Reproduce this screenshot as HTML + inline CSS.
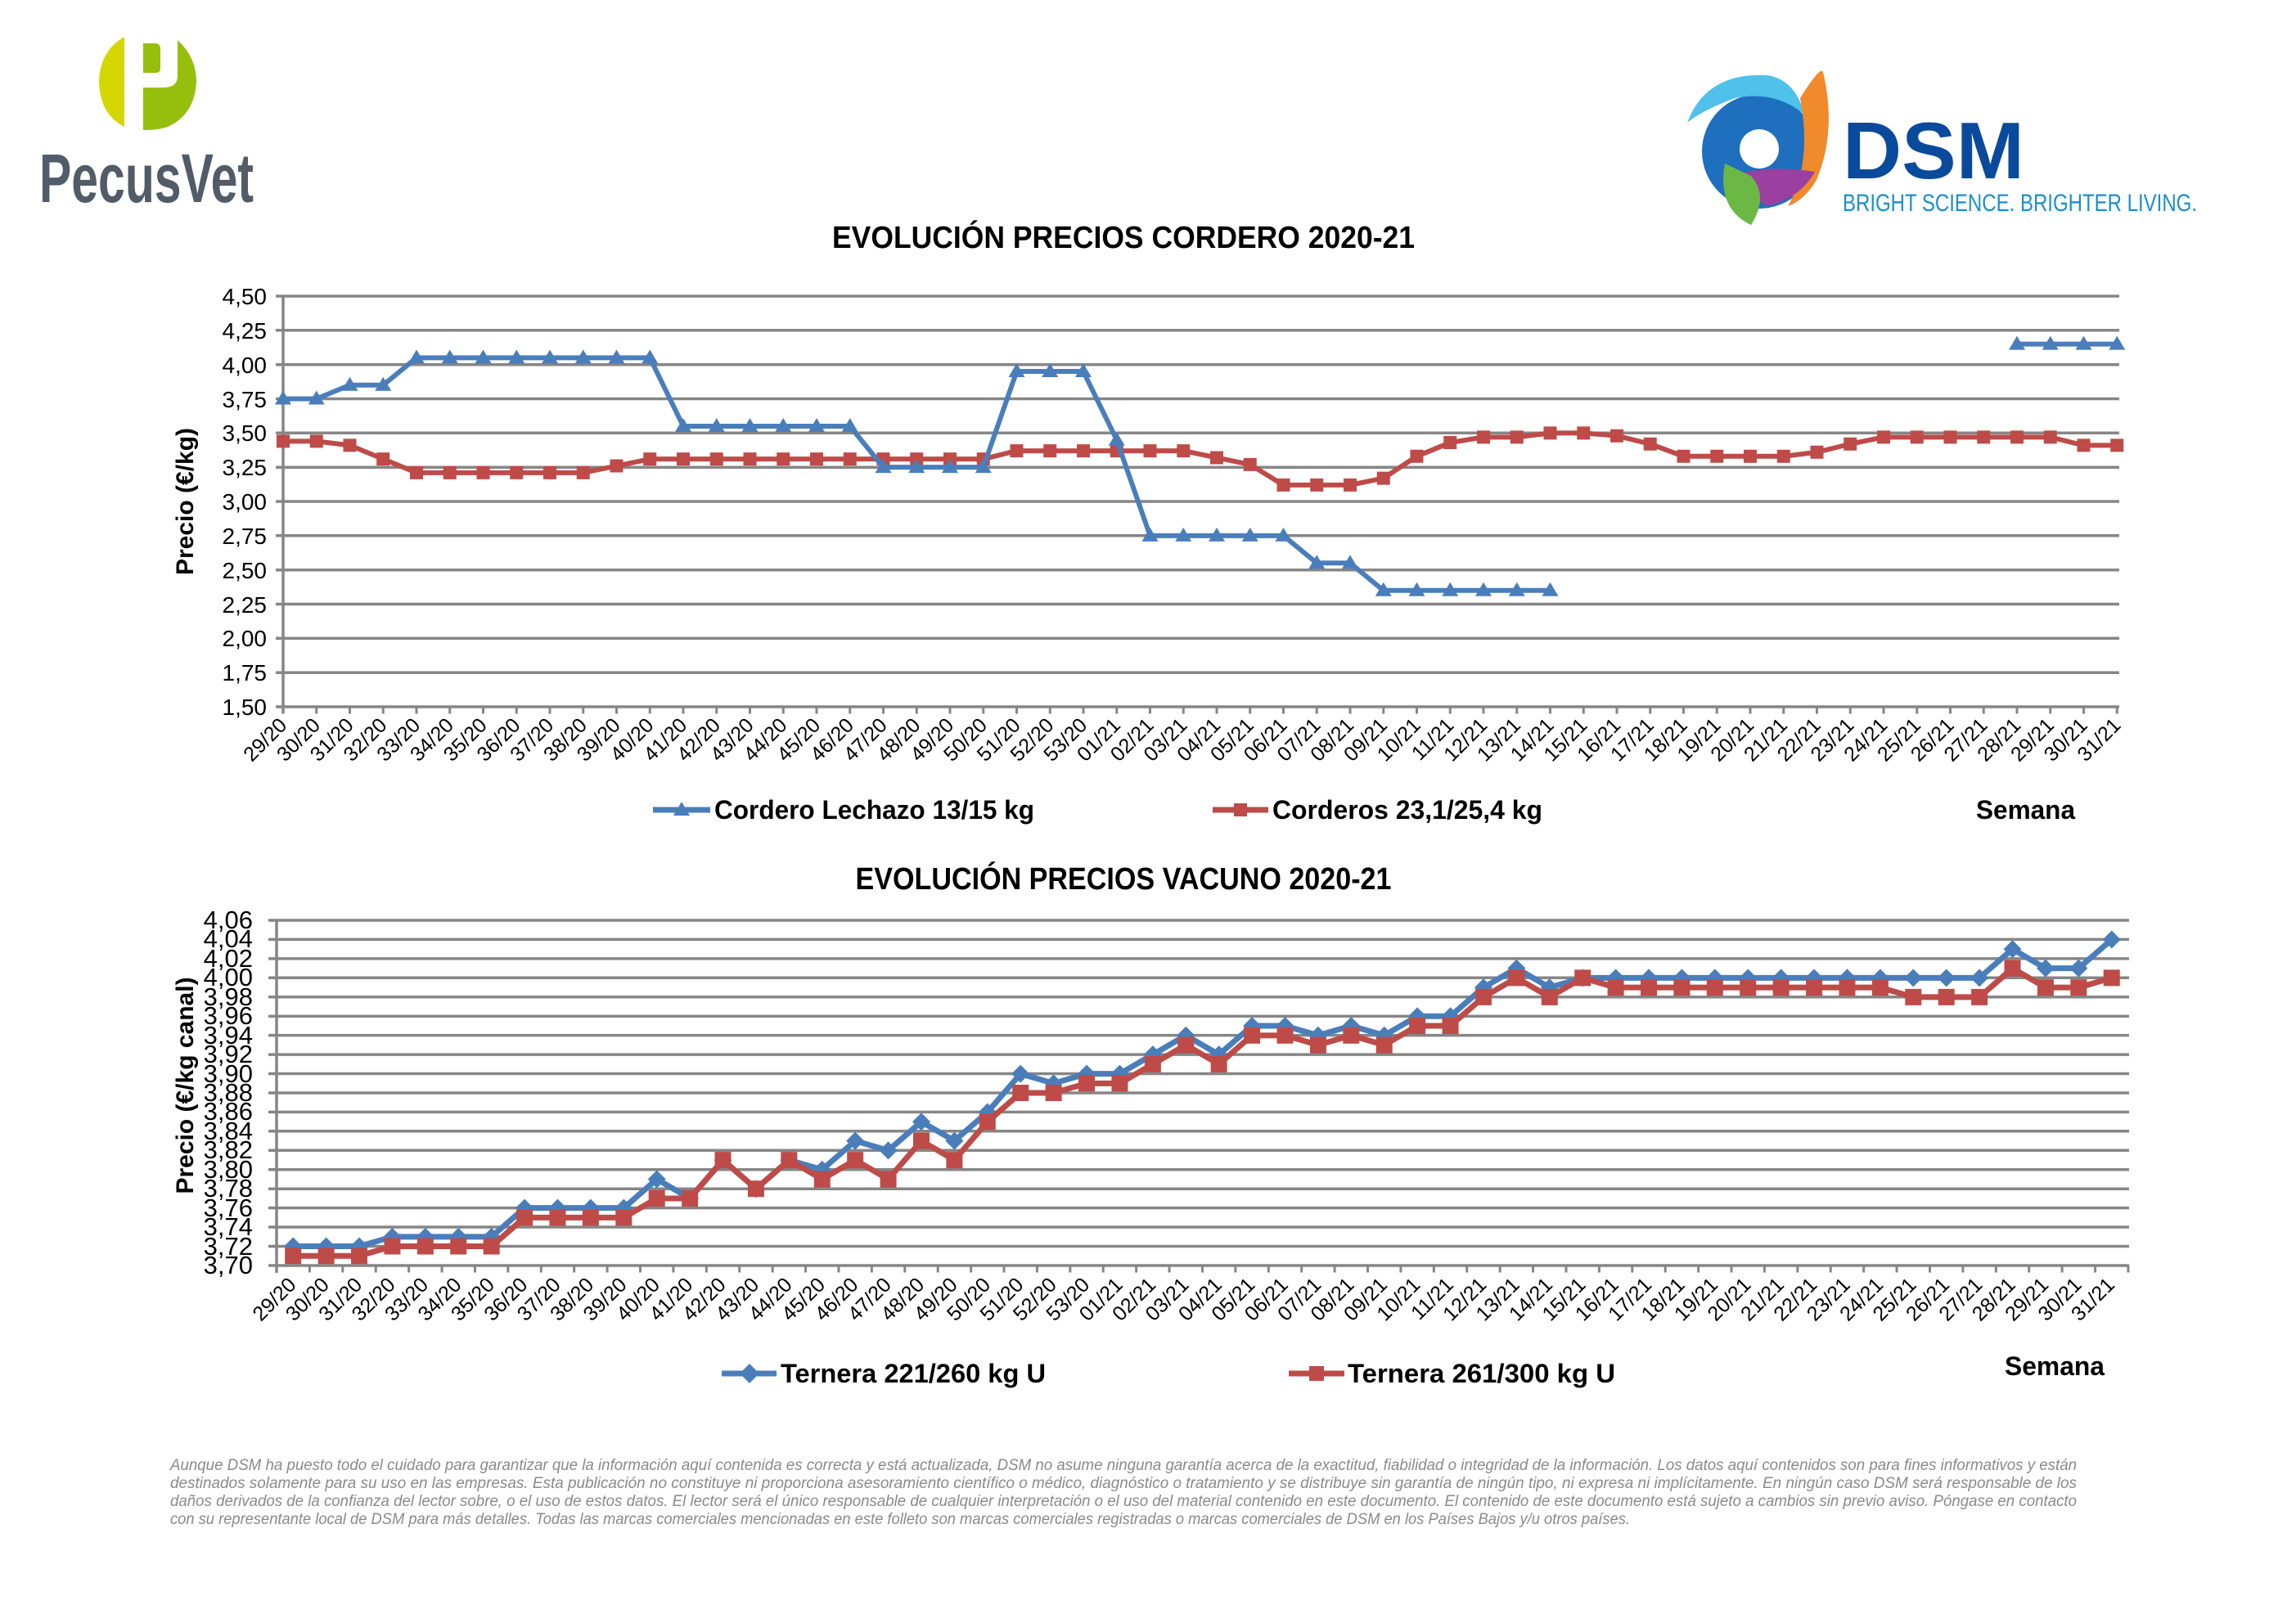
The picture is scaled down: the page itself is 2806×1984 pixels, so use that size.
<!DOCTYPE html>
<html><head><meta charset="utf-8"><style>
html,body{margin:0;padding:0;background:#fff;}
svg{display:block;}
text{font-family:"Liberation Sans",sans-serif;}
</style></head><body>
<svg width="2806" height="1984" viewBox="0 0 2806 1984" xmlns="http://www.w3.org/2000/svg">
<defs>
<marker id="tri" markerUnits="userSpaceOnUse" overflow="visible" refX="0" refY="0" markerWidth="1" markerHeight="1">
<path transform="scale(0.02454,-0.5976)" d="M0,-10 L10,7 L-10,7Z" fill="#4a7ebb"/></marker>
<marker id="sq1" markerUnits="userSpaceOnUse" overflow="visible" refX="0" refY="0" markerWidth="1" markerHeight="1">
<path transform="scale(0.02454,-0.5976)" d="M-8,-8 H8 V8 H-8Z" fill="#be4b48"/></marker>
<marker id="dia" markerUnits="userSpaceOnUse" overflow="visible" refX="0" refY="0" markerWidth="1" markerHeight="1">
<path transform="scale(0.024746,-0.085324)" d="M0,-11 L11,0 L0,11 L-11,0Z" fill="#4a7ebb"/></marker>
<marker id="sq2" markerUnits="userSpaceOnUse" overflow="visible" refX="0" refY="0" markerWidth="1" markerHeight="1">
<path transform="scale(0.024746,-0.085324)" d="M-10,-10 H10 V10 H-10Z" fill="#be4b48"/></marker>
</defs>

<!-- PecusVet logo -->
<path d="M152,45 Q122,62 121,100 Q122,140 152,155 Z" fill="#d4d800"/>
<path d="M175,53 H190 Q196,53 196,60 V84 Q196,89 190,89 H175 Z" fill="#96bf0d"/>
<path d="M217,49 Q240,70 240,100 Q238,140 205,155 Q194,159 175,159 V107 H200 Q216,107 217,94 Z" fill="#96bf0d"/>
<text x="48" y="247" font-size="84" font-weight="bold" fill="#525c68" textLength="262" lengthAdjust="spacingAndGlyphs">PecusVet</text>

<!-- DSM logo -->
<circle cx="2150" cy="185" r="70" fill="#1f6fbf"/>
<path d="M2062,150 Q2085,88 2160,92 Q2195,98 2205,140 Q2170,110 2120,120 Q2080,135 2062,150Z" fill="#4fc1ea"/>
<path d="M2200,120 Q2225,80 2228,88 Q2245,160 2220,220 Q2205,245 2185,252 Q2215,200 2200,120Z" fill="#f08a2a"/>
<path d="M2112,218 Q2150,200 2218,210 Q2200,242 2160,252 Z" fill="#9b3fa0"/>
<path d="M2108,200 Q2098,255 2140,275 Q2162,240 2140,215Z" fill="#6bb845"/>
<circle cx="2150" cy="182" r="24" fill="#fff"/>
<text x="2252" y="218" font-size="98" font-weight="bold" fill="#0a4a9c" textLength="222" lengthAdjust="spacingAndGlyphs">DSM</text>
<text x="2252" y="258" font-size="30" fill="#1a8fd0" textLength="433" lengthAdjust="spacingAndGlyphs">BRIGHT SCIENCE. BRIGHTER LIVING.</text>

<!-- Chart 1 -->
<text x="1373" y="303" font-size="38" font-weight="bold" text-anchor="middle" textLength="712" lengthAdjust="spacingAndGlyphs">EVOLUCIÓN PRECIOS CORDERO 2020-21</text>
<g stroke="#868686" stroke-width="3.5">
<line x1="337" y1="362" x2="2590" y2="362"/><line x1="337" y1="403.8" x2="2590" y2="403.8"/><line x1="337" y1="445.7" x2="2590" y2="445.7"/><line x1="337" y1="487.5" x2="2590" y2="487.5"/><line x1="337" y1="529.3" x2="2590" y2="529.3"/><line x1="337" y1="571.2" x2="2590" y2="571.2"/><line x1="337" y1="613" x2="2590" y2="613"/><line x1="337" y1="654.8" x2="2590" y2="654.8"/><line x1="337" y1="696.7" x2="2590" y2="696.7"/><line x1="337" y1="738.5" x2="2590" y2="738.5"/><line x1="337" y1="780.3" x2="2590" y2="780.3"/><line x1="337" y1="822.2" x2="2590" y2="822.2"/><line x1="337" y1="864" x2="2590" y2="864"/>
<line x1="346" y1="362" x2="346" y2="872"/>
</g>
<line x1="344.5" y1="868" x2="2592" y2="868" stroke="#868686" stroke-width="9" stroke-dasharray="3 37.75"/>
<g font-size="28" text-anchor="end">
<text x="326" y="372">4,50</text><text x="326" y="414">4,25</text><text x="326" y="456">4,00</text><text x="326" y="498">3,75</text><text x="326" y="539">3,50</text><text x="326" y="581">3,25</text><text x="326" y="623">3,00</text><text x="326" y="665">2,75</text><text x="326" y="707">2,50</text><text x="326" y="749">2,25</text><text x="326" y="790">2,00</text><text x="326" y="832">1,75</text><text x="326" y="874">1,50</text>
</g>
<text transform="translate(236,613) rotate(-90)" font-size="30" font-weight="bold" text-anchor="middle">Precio (€/kg)</text>
<g transform="translate(6,888)" font-size="25" text-anchor="end">
<text transform="translate(346,0) rotate(-45)">29/20</text><text transform="translate(386.75,0) rotate(-45)">30/20</text><text transform="translate(427.5,0) rotate(-45)">31/20</text><text transform="translate(468.25,0) rotate(-45)">32/20</text><text transform="translate(509,0) rotate(-45)">33/20</text><text transform="translate(549.75,0) rotate(-45)">34/20</text><text transform="translate(590.5,0) rotate(-45)">35/20</text><text transform="translate(631.25,0) rotate(-45)">36/20</text><text transform="translate(672,0) rotate(-45)">37/20</text><text transform="translate(712.75,0) rotate(-45)">38/20</text><text transform="translate(753.5,0) rotate(-45)">39/20</text><text transform="translate(794.25,0) rotate(-45)">40/20</text><text transform="translate(835,0) rotate(-45)">41/20</text><text transform="translate(875.75,0) rotate(-45)">42/20</text><text transform="translate(916.5,0) rotate(-45)">43/20</text><text transform="translate(957.25,0) rotate(-45)">44/20</text><text transform="translate(998,0) rotate(-45)">45/20</text><text transform="translate(1038.75,0) rotate(-45)">46/20</text><text transform="translate(1079.5,0) rotate(-45)">47/20</text><text transform="translate(1120.25,0) rotate(-45)">48/20</text><text transform="translate(1161,0) rotate(-45)">49/20</text><text transform="translate(1201.75,0) rotate(-45)">50/20</text><text transform="translate(1242.5,0) rotate(-45)">51/20</text><text transform="translate(1283.25,0) rotate(-45)">52/20</text><text transform="translate(1324,0) rotate(-45)">53/20</text><text transform="translate(1364.75,0) rotate(-45)">01/21</text><text transform="translate(1405.5,0) rotate(-45)">02/21</text><text transform="translate(1446.25,0) rotate(-45)">03/21</text><text transform="translate(1487,0) rotate(-45)">04/21</text><text transform="translate(1527.75,0) rotate(-45)">05/21</text><text transform="translate(1568.5,0) rotate(-45)">06/21</text><text transform="translate(1609.25,0) rotate(-45)">07/21</text><text transform="translate(1650,0) rotate(-45)">08/21</text><text transform="translate(1690.75,0) rotate(-45)">09/21</text><text transform="translate(1731.5,0) rotate(-45)">10/21</text><text transform="translate(1772.25,0) rotate(-45)">11/21</text><text transform="translate(1813,0) rotate(-45)">12/21</text><text transform="translate(1853.75,0) rotate(-45)">13/21</text><text transform="translate(1894.5,0) rotate(-45)">14/21</text><text transform="translate(1935.25,0) rotate(-45)">15/21</text><text transform="translate(1976,0) rotate(-45)">16/21</text><text transform="translate(2016.75,0) rotate(-45)">17/21</text><text transform="translate(2057.5,0) rotate(-45)">18/21</text><text transform="translate(2098.25,0) rotate(-45)">19/21</text><text transform="translate(2139,0) rotate(-45)">20/21</text><text transform="translate(2179.75,0) rotate(-45)">21/21</text><text transform="translate(2220.5,0) rotate(-45)">22/21</text><text transform="translate(2261.25,0) rotate(-45)">23/21</text><text transform="translate(2302,0) rotate(-45)">24/21</text><text transform="translate(2342.75,0) rotate(-45)">25/21</text><text transform="translate(2383.5,0) rotate(-45)">26/21</text><text transform="translate(2424.25,0) rotate(-45)">27/21</text><text transform="translate(2465,0) rotate(-45)">28/21</text><text transform="translate(2505.75,0) rotate(-45)">29/21</text><text transform="translate(2546.5,0) rotate(-45)">30/21</text><text transform="translate(2587.25,0) rotate(-45)">31/21</text>
</g>
<g transform="translate(346,1115) scale(40.75,-1.6733)" fill="none" stroke-linejoin="round">
<polyline vector-effect="non-scaling-stroke" stroke="#be4b48" stroke-width="6" marker-start="url(#sq1)" marker-mid="url(#sq1)" marker-end="url(#sq1)" points="0,344 1,344 2,341 3,331 4,321 5,321 6,321 7,321 8,321 9,321 10,326 11,331 12,331 13,331 14,331 15,331 16,331 17,331 18,331 19,331 20,331 21,331 22,337 23,337 24,337 25,337 26,337 27,337 28,332 29,327 30,312 31,312 32,312 33,317 34,333 35,343 36,347 37,347 38,350 39,350 40,348 41,342 42,333 43,333 44,333 45,333 46,336 47,342 48,347 49,347 50,347 51,347 52,347 53,347 54,341 55,341"/>
<polyline vector-effect="non-scaling-stroke" stroke="#4a7ebb" stroke-width="6" marker-start="url(#tri)" marker-mid="url(#tri)" marker-end="url(#tri)" points="0,375 1,375 2,385 3,385 4,405 5,405 6,405 7,405 8,405 9,405 10,405 11,405 12,355 13,355 14,355 15,355 16,355 17,355 18,325 19,325 20,325 21,325 22,395 23,395 24,395 25,345 26,275 27,275 28,275 29,275 30,275 31,255 32,255 33,235 34,235 35,235 36,235 37,235 38,235"/>
<polyline vector-effect="non-scaling-stroke" stroke="#4a7ebb" stroke-width="6" marker-start="url(#tri)" marker-mid="url(#tri)" marker-end="url(#tri)" points="52,415 53,415 54,415 55,415"/>
</g>
<line x1="798" y1="990" x2="868" y2="990" stroke="#4a7ebb" stroke-width="7"/><path d="M833,980 L843,997 L823,997Z" fill="#4a7ebb"/>
<text x="873" y="1001" font-size="32" font-weight="bold" textLength="391" lengthAdjust="spacingAndGlyphs">Cordero Lechazo 13/15 kg</text>
<line x1="1482" y1="990" x2="1550" y2="990" stroke="#be4b48" stroke-width="7"/><rect x="1508" y="982" width="16" height="16" fill="#be4b48"/>
<text x="1555" y="1001" font-size="32" font-weight="bold" textLength="330" lengthAdjust="spacingAndGlyphs">Corderos 23,1/25,4 kg</text>
<text x="2415" y="1001" font-size="32" font-weight="bold" textLength="121" lengthAdjust="spacingAndGlyphs">Semana</text>

<!-- Chart 2 -->
<text x="1373" y="1087" font-size="38" font-weight="bold" text-anchor="middle" textLength="655" lengthAdjust="spacingAndGlyphs">EVOLUCIÓN PRECIOS VACUNO 2020-21</text>
<g stroke="#868686" stroke-width="3.5">
<line x1="328" y1="1125" x2="2602" y2="1125"/><line x1="328" y1="1148.4" x2="2602" y2="1148.4"/><line x1="328" y1="1171.9" x2="2602" y2="1171.9"/><line x1="328" y1="1195.3" x2="2602" y2="1195.3"/><line x1="328" y1="1218.8" x2="2602" y2="1218.8"/><line x1="328" y1="1242.2" x2="2602" y2="1242.2"/><line x1="328" y1="1265.6" x2="2602" y2="1265.6"/><line x1="328" y1="1289.1" x2="2602" y2="1289.1"/><line x1="328" y1="1312.5" x2="2602" y2="1312.5"/><line x1="328" y1="1336" x2="2602" y2="1336"/><line x1="328" y1="1359.4" x2="2602" y2="1359.4"/><line x1="328" y1="1382.8" x2="2602" y2="1382.8"/><line x1="328" y1="1406.3" x2="2602" y2="1406.3"/><line x1="328" y1="1429.7" x2="2602" y2="1429.7"/><line x1="328" y1="1453.2" x2="2602" y2="1453.2"/><line x1="328" y1="1476.6" x2="2602" y2="1476.6"/><line x1="328" y1="1500" x2="2602" y2="1500"/><line x1="328" y1="1523.5" x2="2602" y2="1523.5"/><line x1="328" y1="1547" x2="2602" y2="1547"/>
<line x1="338" y1="1125" x2="338" y2="1556"/>
</g>
<line x1="336.5" y1="1551" x2="2604" y2="1551" stroke="#868686" stroke-width="9" stroke-dasharray="3 37.41"/>
<g font-size="31" text-anchor="end">
<text x="309" y="1135">4,06</text><text x="309" y="1158">4,04</text><text x="309" y="1182">4,02</text><text x="309" y="1205">4,00</text><text x="309" y="1229">3,98</text><text x="309" y="1252">3,96</text><text x="309" y="1276">3,94</text><text x="309" y="1299">3,92</text><text x="309" y="1323">3,90</text><text x="309" y="1346">3,88</text><text x="309" y="1369">3,86</text><text x="309" y="1393">3,84</text><text x="309" y="1416">3,82</text><text x="309" y="1440">3,80</text><text x="309" y="1463">3,78</text><text x="309" y="1487">3,76</text><text x="309" y="1510">3,74</text><text x="309" y="1534">3,72</text><text x="309" y="1557">3,70</text>
</g>
<text transform="translate(236,1327) rotate(-90)" font-size="30" font-weight="bold" text-anchor="middle">Precio (€/kg canal)</text>
<g transform="translate(5,1572)" font-size="25" text-anchor="end">
<text transform="translate(358.2,0) rotate(-45)">29/20</text><text transform="translate(398.6,0) rotate(-45)">30/20</text><text transform="translate(439,0) rotate(-45)">31/20</text><text transform="translate(479.4,0) rotate(-45)">32/20</text><text transform="translate(519.8,0) rotate(-45)">33/20</text><text transform="translate(560.3,0) rotate(-45)">34/20</text><text transform="translate(600.7,0) rotate(-45)">35/20</text><text transform="translate(641.1,0) rotate(-45)">36/20</text><text transform="translate(681.5,0) rotate(-45)">37/20</text><text transform="translate(721.9,0) rotate(-45)">38/20</text><text transform="translate(762.3,0) rotate(-45)">39/20</text><text transform="translate(802.7,0) rotate(-45)">40/20</text><text transform="translate(843.1,0) rotate(-45)">41/20</text><text transform="translate(883.5,0) rotate(-45)">42/20</text><text transform="translate(923.9,0) rotate(-45)">43/20</text><text transform="translate(964.4,0) rotate(-45)">44/20</text><text transform="translate(1004.8,0) rotate(-45)">45/20</text><text transform="translate(1045.2,0) rotate(-45)">46/20</text><text transform="translate(1085.6,0) rotate(-45)">47/20</text><text transform="translate(1126,0) rotate(-45)">48/20</text><text transform="translate(1166.4,0) rotate(-45)">49/20</text><text transform="translate(1206.8,0) rotate(-45)">50/20</text><text transform="translate(1247.2,0) rotate(-45)">51/20</text><text transform="translate(1287.6,0) rotate(-45)">52/20</text><text transform="translate(1328,0) rotate(-45)">53/20</text><text transform="translate(1368.5,0) rotate(-45)">01/21</text><text transform="translate(1408.9,0) rotate(-45)">02/21</text><text transform="translate(1449.3,0) rotate(-45)">03/21</text><text transform="translate(1489.7,0) rotate(-45)">04/21</text><text transform="translate(1530.1,0) rotate(-45)">05/21</text><text transform="translate(1570.5,0) rotate(-45)">06/21</text><text transform="translate(1610.9,0) rotate(-45)">07/21</text><text transform="translate(1651.3,0) rotate(-45)">08/21</text><text transform="translate(1691.7,0) rotate(-45)">09/21</text><text transform="translate(1732.1,0) rotate(-45)">10/21</text><text transform="translate(1772.6,0) rotate(-45)">11/21</text><text transform="translate(1813,0) rotate(-45)">12/21</text><text transform="translate(1853.4,0) rotate(-45)">13/21</text><text transform="translate(1893.8,0) rotate(-45)">14/21</text><text transform="translate(1934.2,0) rotate(-45)">15/21</text><text transform="translate(1974.6,0) rotate(-45)">16/21</text><text transform="translate(2015,0) rotate(-45)">17/21</text><text transform="translate(2055.4,0) rotate(-45)">18/21</text><text transform="translate(2095.8,0) rotate(-45)">19/21</text><text transform="translate(2136.2,0) rotate(-45)">20/21</text><text transform="translate(2176.7,0) rotate(-45)">21/21</text><text transform="translate(2217.1,0) rotate(-45)">22/21</text><text transform="translate(2257.5,0) rotate(-45)">23/21</text><text transform="translate(2297.9,0) rotate(-45)">24/21</text><text transform="translate(2338.3,0) rotate(-45)">25/21</text><text transform="translate(2378.7,0) rotate(-45)">26/21</text><text transform="translate(2419.1,0) rotate(-45)">27/21</text><text transform="translate(2459.5,0) rotate(-45)">28/21</text><text transform="translate(2499.9,0) rotate(-45)">29/21</text><text transform="translate(2540.3,0) rotate(-45)">30/21</text><text transform="translate(2580.7,0) rotate(-45)">31/21</text>
</g>
<g transform="translate(358.2,1547) scale(40.41,-11.72)" fill="none" stroke-linejoin="round">
<polyline vector-effect="non-scaling-stroke" stroke="#4a7ebb" stroke-width="7" marker-start="url(#dia)" marker-mid="url(#dia)" marker-end="url(#dia)" points="0,2 1,2 2,2 3,3 4,3 5,3 6,3 7,6 8,6 9,6 10,6 11,9 12,7 13,11 14,8 15,11 16,10 17,13 18,12 19,15 20,13 21,16 22,20 23,19 24,20 25,20 26,22 27,24 28,22 29,25 30,25 31,24 32,25 33,24 34,26 35,26 36,29 37,31 38,29 39,30 40,30 41,30 42,30 43,30 44,30 45,30 46,30 47,30 48,30 49,30 50,30 51,30 52,33 53,31 54,31 55,34"/>
<polyline vector-effect="non-scaling-stroke" stroke="#be4b48" stroke-width="7" marker-start="url(#sq2)" marker-mid="url(#sq2)" marker-end="url(#sq2)" points="0,1 1,1 2,1 3,2 4,2 5,2 6,2 7,5 8,5 9,5 10,5 11,7 12,7 13,11 14,8 15,11 16,9 17,11 18,9 19,13 20,11 21,15 22,18 23,18 24,19 25,19 26,21 27,23 28,21 29,24 30,24 31,23 32,24 33,23 34,25 35,25 36,28 37,30 38,28 39,30 40,29 41,29 42,29 43,29 44,29 45,29 46,29 47,29 48,29 49,28 50,28 51,28 52,31 53,29 54,29 55,30"/>
</g>
<line x1="882" y1="1679" x2="949" y2="1679" stroke="#4a7ebb" stroke-width="7"/><path d="M916,1667 L928,1679 L916,1691 L904,1679Z" fill="#4a7ebb"/>
<text x="954" y="1690" font-size="32" font-weight="bold" textLength="324" lengthAdjust="spacingAndGlyphs">Ternera 221/260 kg U</text>
<line x1="1575" y1="1679" x2="1643" y2="1679" stroke="#be4b48" stroke-width="7"/><rect x="1600" y="1670" width="18" height="18" fill="#be4b48"/>
<text x="1647" y="1690" font-size="32" font-weight="bold" textLength="327" lengthAdjust="spacingAndGlyphs">Ternera 261/300 kg U</text>
<text x="2450" y="1681" font-size="32" font-weight="bold" textLength="122" lengthAdjust="spacingAndGlyphs">Semana</text>

<!-- Footer -->
<g font-size="19" font-style="italic" fill="#8a8a8a">
<text x="208" y="1797" textLength="2330" lengthAdjust="spacingAndGlyphs">Aunque DSM ha puesto todo el cuidado para garantizar que la información aquí contenida es correcta y está actualizada, DSM no asume ninguna garantía acerca de la exactitud, fiabilidad o integridad de la información. Los datos aquí contenidos son para fines informativos y están</text>
<text x="208" y="1819" textLength="2330" lengthAdjust="spacingAndGlyphs">destinados solamente para su uso en las empresas. Esta publicación no constituye ni proporciona asesoramiento científico o médico, diagnóstico o tratamiento y se distribuye sin garantía de ningún tipo, ni expresa ni implícitamente. En ningún caso DSM será responsable de los</text>
<text x="208" y="1841" textLength="2330" lengthAdjust="spacingAndGlyphs">daños derivados de la confianza del lector sobre, o el uso de estos datos. El lector será el único responsable de cualquier interpretación o el uso del material contenido en este documento. El contenido de este documento está sujeto a cambios sin previo aviso. Póngase en contacto</text>
<text x="208" y="1863" textLength="1784" lengthAdjust="spacingAndGlyphs">con su representante local de DSM para más detalles. Todas las marcas comerciales mencionadas en este folleto son marcas comerciales registradas o marcas comerciales de DSM en los Países Bajos y/u otros países.</text>
</g>
</svg>
</body></html>
